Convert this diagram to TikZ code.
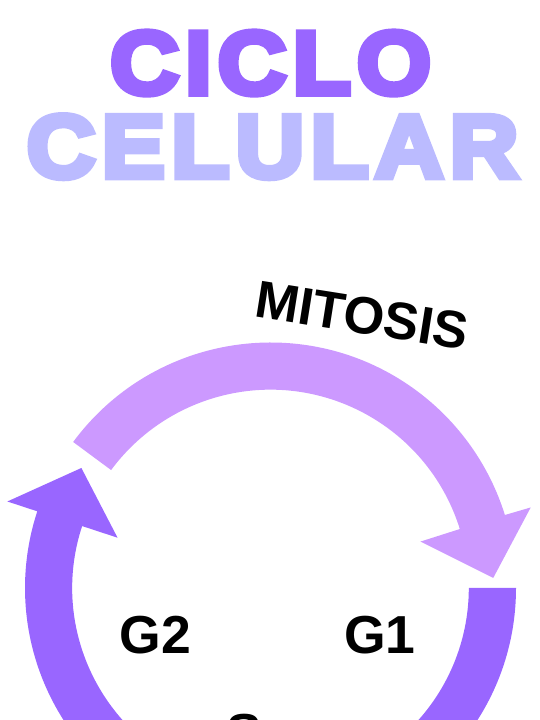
\documentclass[tikz,border=0pt]{standalone}
\usepackage{fontspec}
\setmainfont{Liberation Sans}
\newfontfamily\titlefont{Liberation Sans Bold}[FakeBold=7,FakeStretch=1.07,LetterSpace=6.9]
\newfontfamily\labelfont{Liberation Sans Bold}
\definecolor{ringpurple}{HTML}{9966FF}
\definecolor{mitpurple}{HTML}{CC99FF}
\definecolor{celcolor}{HTML}{BBBBFF}
\begin{document}
\begin{tikzpicture}[x=1pt,y=1pt,
  titletext/.style={inner sep=0pt, anchor=base, font=\titlefont\fontsize{89}{94}\selectfont},
  labtext/.style={inner sep=0pt, anchor=base, text=black, font=\labelfont\fontsize{53.5}{60}\selectfont},
  mittext/.style={inner sep=0pt, text=black, font=\labelfont\fontsize{52.5}{58}\selectfont}]
\useasboundingbox (0,0) rectangle (540,720);
\clip (0,0) rectangle (540,720);
\node[titletext, text=ringpurple] (ciclo) at (270.7,626.3) {CICLO};
\node[titletext, text=celcolor] (celular) at (272.6,542.7) {CELULAR};
\begin{scope}[shift={(270.5,132)}]
  \fill[ringpurple] (0:245.5) arc[start angle=0, end angle=-198.2, radius=245.5]
    -- (161.8:277) -- (147.6:224) -- (161.8:161) -- (161.8:198.3)
    arc[start angle=-198.2, end angle=0, radius=198.3] -- cycle;
  \fill[mitpurple] (143.5:245.5) arc[start angle=143.5, end angle=17.3, radius=245.5]
    -- (17.2:272.4) -- (2.6:223) -- (17.2:157) -- (17.3:198.3)
    arc[start angle=17.3, end angle=143.5, radius=198.3] -- cycle;
\end{scope}
\node[mittext, rotate=-9] (mitosis) at (362,404.5) {MITOSIS};
\node[labtext] (g2) at (155.5,66.7) {G2};
\node[labtext] (g1) at (379.9,66.7) {G1};
\node[labtext] (s) at (244,-31.8) {S};
\end{tikzpicture}
\end{document}
